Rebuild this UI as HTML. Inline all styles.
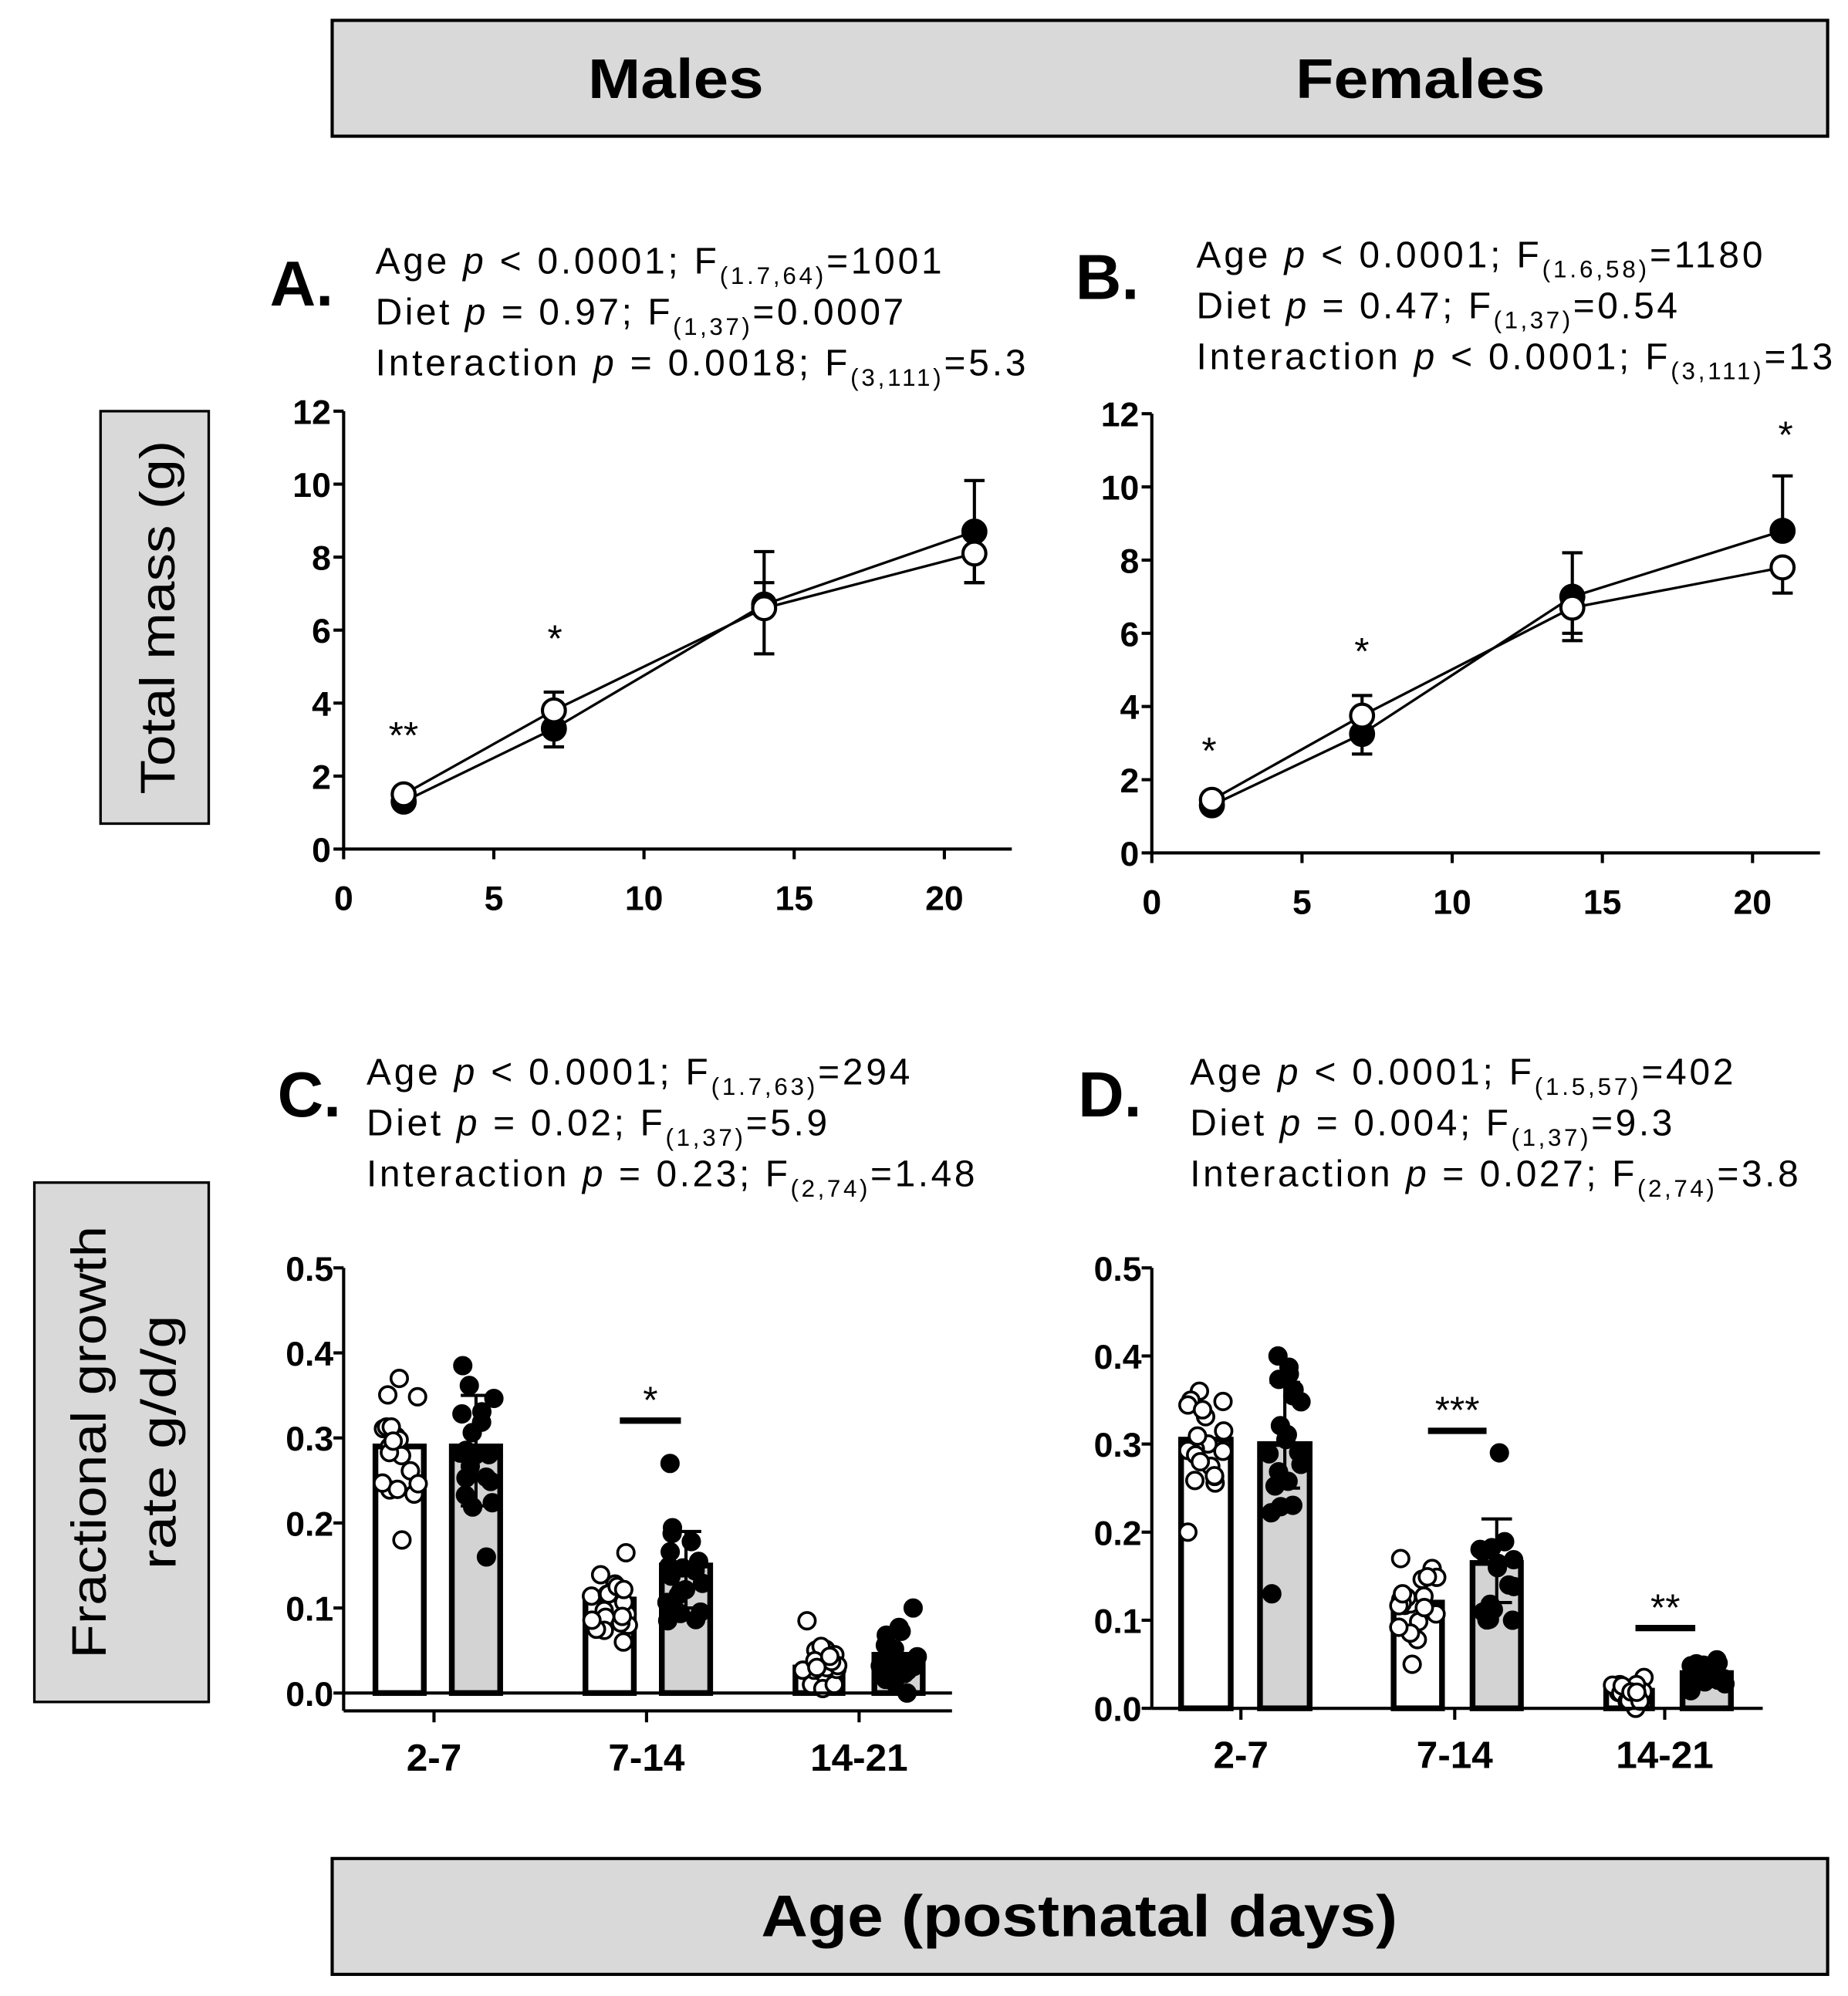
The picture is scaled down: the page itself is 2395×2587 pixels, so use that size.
<!DOCTYPE html>
<html><head><meta charset="utf-8"><style>
html,body{margin:0;padding:0;background:#fff}
svg{display:block}
text{font-family:"Liberation Sans",Arial,sans-serif}
.st{font-size:29px}
.sub{font-size:19px}
.tk{font-size:27px;font-weight:bold}
</style></head><body>
<svg id="s" width="2395" height="2587" viewBox="0 0 1452 1568" preserveAspectRatio="none" xmlns="http://www.w3.org/2000/svg">
<rect width="1452" height="1568" fill="#fff"/>
<rect x="261" y="16" width="1175" height="91" fill="#d9d9d9" stroke="#000" stroke-width="2.5"/>
<text x="531" y="77" font-size="44" font-weight="bold" text-anchor="middle" textLength="138" lengthAdjust="spacingAndGlyphs">Males</text>
<text x="1116" y="77" font-size="44" font-weight="bold" text-anchor="middle" textLength="196" lengthAdjust="spacingAndGlyphs">Females</text>
<rect x="261" y="1460" width="1175" height="91" fill="#d9d9d9" stroke="#000" stroke-width="2.5"/>
<text x="848" y="1521" font-size="46" font-weight="bold" text-anchor="middle" textLength="500" lengthAdjust="spacingAndGlyphs">Age (postnatal days)</text>
<rect x="79" y="323" width="85" height="324" fill="#d9d9d9" stroke="#000" stroke-width="2"/>
<text transform="translate(137,485) rotate(-90)" font-size="38" text-anchor="middle" textLength="278" lengthAdjust="spacingAndGlyphs">Total mass (g)</text>
<rect x="27" y="929" width="137" height="408" fill="#d9d9d9" stroke="#000" stroke-width="2"/>
<text transform="translate(83,1133) rotate(-90)" font-size="38" text-anchor="middle" textLength="340" lengthAdjust="spacingAndGlyphs">Fractional growth</text>
<text transform="translate(138,1133) rotate(-90)" font-size="38" text-anchor="middle" textLength="200" lengthAdjust="spacingAndGlyphs">rate g/d/g</text>

<text x="212" y="240" font-size="50" font-weight="bold">A.</text>
<text x="845" y="235" font-size="50" font-weight="bold">B.</text>
<text x="218" y="877" font-size="50" font-weight="bold">C.</text>
<text x="847" y="877" font-size="50" font-weight="bold">D.</text>

<g class="st">
<text x="295" y="215" textLength="445">Age <tspan font-style="italic">p</tspan> &lt; 0.0001;  F<tspan class="sub" dy="8">(1.7,64)</tspan><tspan dy="-8">=1001</tspan></text>
<text x="295" y="255" textLength="415">Diet <tspan font-style="italic">p</tspan> = 0.97;  F<tspan class="sub" dy="8">(1,37)</tspan><tspan dy="-8">=0.0007</tspan></text>
<text x="295" y="295" textLength="511">Interaction  <tspan font-style="italic">p</tspan> = 0.0018;  F<tspan class="sub" dy="8">(3,111)</tspan><tspan dy="-8">=5.3</tspan></text>
<text x="940" y="210" textLength="445">Age <tspan font-style="italic">p</tspan> &lt; 0.0001;  F<tspan class="sub" dy="8">(1.6,58)</tspan><tspan dy="-8">=1180</tspan></text>
<text x="940" y="250" textLength="378">Diet <tspan font-style="italic">p</tspan> = 0.47;  F<tspan class="sub" dy="8">(1,37)</tspan><tspan dy="-8">=0.54</tspan></text>
<text x="940" y="290" textLength="500">Interaction  <tspan font-style="italic">p</tspan> &lt; 0.0001;  F<tspan class="sub" dy="8">(3,111)</tspan><tspan dy="-8">=13</tspan></text>
<text x="288" y="852" textLength="427">Age <tspan font-style="italic">p</tspan> &lt; 0.0001;  F<tspan class="sub" dy="8">(1.7,63)</tspan><tspan dy="-8">=294</tspan></text>
<text x="288" y="892" textLength="362">Diet <tspan font-style="italic">p</tspan> = 0.02;  F<tspan class="sub" dy="8">(1,37)</tspan><tspan dy="-8">=5.9</tspan></text>
<text x="288" y="932" textLength="478">Interaction  <tspan font-style="italic">p</tspan> = 0.23;  F<tspan class="sub" dy="8">(2,74)</tspan><tspan dy="-8">=1.48</tspan></text>
<text x="935" y="852" textLength="427">Age <tspan font-style="italic">p</tspan> &lt; 0.0001;  F<tspan class="sub" dy="8">(1.5,57)</tspan><tspan dy="-8">=402</tspan></text>
<text x="935" y="892" textLength="379">Diet <tspan font-style="italic">p</tspan> = 0.004;  F<tspan class="sub" dy="8">(1,37)</tspan><tspan dy="-8">=9.3</tspan></text>
<text x="935" y="932" textLength="478">Interaction  <tspan font-style="italic">p</tspan> = 0.027;  F<tspan class="sub" dy="8">(2,74)</tspan><tspan dy="-8">=3.8</tspan></text>
</g>
<g id="dyn"></g>
</svg>
<script>
var NS="http://www.w3.org/2000/svg",g=document.getElementById("dyn");
function el(t,a,txt){var e=document.createElementNS(NS,t);for(var k in a)e.setAttribute(k,a[k]);if(txt!=null)e.textContent=txt;g.appendChild(e);return e;}
function line(x1,y1,x2,y2,w){el("line",{x1:x1,y1:y1,x2:x2,y2:y2,stroke:"#000","stroke-width":w||2.5});}
function linePanel(x0,y0,yTop,data,stars){
  var sx=23.6,sy=(y0-yTop)/12;
  line(x0,yTop,x0,y0,2.5);line(x0,y0,x0+525,y0,2.5);
  for(var v=0;v<=12;v+=2){var y=y0-v*sy;line(x0-8,y,x0,y);el("text",{x:x0-10,y:y+10,"text-anchor":"end","class":"tk"},v);}
  for(var d=0;d<=20;d+=5){var x=x0+d*sx;line(x,y0,x,y0+8);el("text",{x:x,y:y0+48,"text-anchor":"middle","class":"tk"},d);}
  var days=[2,7,14,21];
  data.forEach(function(s){
    var pts=s.m.map(function(m,i){return [x0+days[i]*sx,y0-m*sy];});
    el("polyline",{points:pts.map(function(p){return p.join(",")}).join(" "),fill:"none",stroke:"#000","stroke-width":2});
    s.e.forEach(function(e,i){if(!e)return;var x=pts[i][0];line(x,y0-e[0]*sy,x,y0-e[1]*sy,2.5);line(x-8,y0-e[0]*sy,x+8,y0-e[0]*sy,2.5);line(x-8,y0-e[1]*sy,x+8,y0-e[1]*sy,2.5);});
  });
  data.forEach(function(s){s.m.forEach(function(m,i){el("circle",{cx:x0+days[i]*sx,cy:y0-m*sy,r:9,fill:s.f?"#000":"#fff",stroke:"#000","stroke-width":2.5});});});
  stars.forEach(function(s){el("text",{x:s[0],y:s[1],"font-size":30,"text-anchor":"middle"},s[2]);});
}
linePanel(270,667,323,[
 {f:1,m:[1.3,3.3,6.7,8.7],e:[null,[2.8,3.3],[6.7,7.3],[7.3,10.1]]},
 {f:0,m:[1.5,3.8,6.6,8.1],e:[null,[3.8,4.3],[5.35,8.15],[7.3,8.1]]}],
 [[317,588,"**"],[436,512,"*"]]);
linePanel(905,670,325,[
 {f:1,m:[1.3,3.25,7.0,8.8],e:[null,[2.7,3.25],[6.0,8.2],[8.8,10.3]]},
 {f:0,m:[1.45,3.75,6.7,7.8],e:[null,[3.75,4.3],[5.8,6.7],[7.1,7.8]]}],
 [[950,600,"*"],[1070,522,"*"],[1403,352,"*"]]);

var seed=7;function rnd(){seed=(seed*9301+49297)%233280;return seed/233280;}
function barPanel(x0,y0,yTop,baseY,xEnd,bars,ticks,sig){
  var sy=(y0-yTop)/0.5;
  line(x0,yTop,x0,baseY,2.5);
  for(var v=0;v<=5;v++){var y=y0-v*0.1*sy;line(x0-8,y,x0,y);el("text",{x:x0-8,y:y+10,"text-anchor":"end","class":"tk"},(v/10).toFixed(1));}
  bars.forEach(function(b){
    var top=y0-b.m*sy;
    el("rect",{x:b.x,y:top,width:b.w,height:y0-top,fill:b.f?"#d3d3d3":"#fff",stroke:"#000","stroke-width":4.5});
    var n=20;
    for(var i=0;i<n;i++){
      var v;
      if(i==0)v=b.hi;else if(i==1)v=b.lo;
      else{var r=rnd();v=b.m+(r-0.5)*(b.hi-b.lo)*0.7;}
      var cx=b.x+b.w/2+(rnd()-0.5)*30;
      el("circle",{cx:cx,cy:y0-v*sy,r:6.5,fill:b.f?"#000":"#fff",stroke:"#000","stroke-width":2.2});
    }
    if(b.e){var cx=b.x+b.w/2;line(cx,y0-b.e[0]*sy,cx,y0-b.e[1]*sy,2.5);line(cx-12,y0-b.e[0]*sy,cx+12,y0-b.e[0]*sy,2.5);line(cx-12,y0-b.e[1]*sy,cx+12,y0-b.e[1]*sy,2.5);}
  });
  if(baseY!=y0)line(x0,y0,xEnd,y0,2.5);
  line(x0,baseY,xEnd,baseY,2.5);
  ticks.forEach(function(t){line(t[0],baseY,t[0],baseY+9);el("text",{x:t[0],y:baseY+47,"text-anchor":"middle","font-size":30,"font-weight":"bold"},t[1]);});
  sig.forEach(function(s){line(s[0],s[2],s[1],s[2],5);el("text",{x:(s[0]+s[1])/2,y:s[2]-6,"font-size":30,"text-anchor":"middle"},s[3]);});
}
barPanel(270,1330,996,1344,748,[
 {x:295,w:38,m:0.29,lo:0.18,hi:0.37,f:0},
 {x:355,w:38,m:0.29,lo:0.16,hi:0.385,f:1,e:[0.22,0.35]},
 {x:460,w:38,m:0.11,lo:0.06,hi:0.165,f:0},
 {x:520,w:38,m:0.15,lo:0.085,hi:0.27,f:1,e:[0.1,0.19]},
 {x:625,w:37,m:0.03,lo:0.01,hi:0.085,f:0},
 {x:687,w:38,m:0.045,lo:0.0,hi:0.1,f:1}],
 [[341,"2-7"],[508,"7-14"],[675,"14-21"]],[[487,535,1116,"*"]]);
barPanel(905,1342,996,1342,1385,[
 {x:928,w:39,m:0.305,lo:0.2,hi:0.36,f:0},
 {x:990,w:39,m:0.30,lo:0.13,hi:0.40,f:1,e:[0.25,0.37]},
 {x:1095,w:38,m:0.12,lo:0.05,hi:0.17,f:0},
 {x:1157,w:38,m:0.165,lo:0.1,hi:0.29,f:1,e:[0.12,0.215]},
 {x:1262,w:36,m:0.02,lo:0.0,hi:0.035,f:0},
 {x:1322,w:38,m:0.04,lo:0.02,hi:0.055,f:1}],
 [[975,"2-7"],[1143,"7-14"],[1308,"14-21"]],[[1122,1168,1124,"***"],[1285,1332,1279,"**"]]);
</script>
</body></html>
